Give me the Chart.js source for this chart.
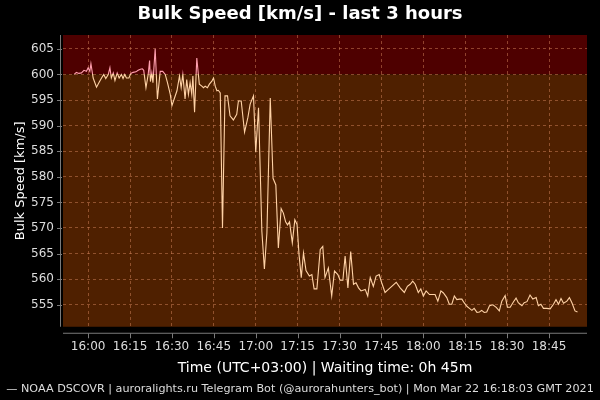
<!DOCTYPE html>
<html>
<head>
<meta charset="utf-8">
<script src="https://cdn.jsdelivr.net/npm/chart.js@4"></script>
<style>
  html, body { margin: 0; padding: 0; background: #000; }
  #wrap { width: 600px; height: 400px; }
</style>
</head>
<body>
<div id="wrap"><canvas id="speed"></canvas></div>
<script>
// minutes after 16:00 (UTC+03:00)
const minutes = [-5.0,-4.2,-3.3,-2.4,-1.5,-0.6,0,0.6,1.0,1.8,3.0,3.9,4.8,5.6,6.3,7.2,7.8,8.3,9.0,9.6,
  10.4,11.1,11.9,12.5,13.1,13.7,14.6,15.3,16.1,17.1,17.9,18.7,19.4,19.9,20.7,21.5,22.0,22.3,22.8,23.2,
  24.0,24.8,25.8,26.7,27.6,28.4,29.4,30.0,30.8,31.8,32.7,33.3,33.9,34.7,35.3,35.9,36.5,37.1,37.5,38.1,
  38.9,39.8,40.7,41.3,41.9,42.7,43.4,44.3,44.9,45.5,46.1,46.6,47.3,48.1,49.0,49.9,50.8,52.0,53.2,53.8,
  54.8,56.0,57.2,58.0,59.2,60.0,61.0,62.2,63.1,64.0,65.2,66.2,67.2,68.1,69.1,69.9,70.7,71.4,72.1,73.1,
  74.0,74.8,75.5,76.3,77.1,78.0,79.2,80.1,80.9,81.9,83.1,84.0,84.8,86.0,87.2,88.2,89.4,90.2,91.2,92.0,
  93.0,94.0,95.0,95.9,96.8,97.7,99.2,100.1,101.0,102.1,103.1,104.2,105.1,106.3,107.5,108.7,110.3,111.7,113.2,114.3,
  115.3,116.2,117.1,118.2,119.1,120.0,121.0,122.2,123.4,124.2,125.2,126.3,127.2,128.4,129.3,130.2,131.1,132.0,132.9,133.8,
  134.6,135.6,136.5,137.4,138.2,139.2,140.1,140.9,141.8,142.7,143.7,144.9,146.1,147.2,148.1,149.3,150.1,151.1,152.3,153.2,
  154.0,155.3,156.1,157.1,158.2,159.2,160.4,161.2,162.1,163.0,164.2,165.4,166.6,167.5,168.4,169.3,170.2,171.4,172.3,173.2,
  174.3,175.2]

const speeds = [600.0,600.4,600.2,600.3,600.8,600.6,601.3,600.6,602.1,599.3,597.5,598.4,599.3,600.0,599.2,600.0,601.3,599.3,600.3,598.8,
  600.3,599.3,600.0,599.2,600.0,599.3,599.3,600.2,600.4,600.5,600.8,601.0,601.1,600.8,597.4,600.0,602.7,598.6,600.3,598.4,
  605.0,595.2,600.6,600.6,600.0,598.4,596.1,593.9,595.2,596.8,599.7,597.4,600.0,595.2,599.0,596.1,598.4,596.1,599.7,592.6,
  603.2,598.1,597.7,597.4,597.7,597.4,598.1,598.7,599.3,597.7,596.8,596.9,596.4,570.0,595.8,595.8,591.9,591.1,592.2,594.8,
  594.8,588.7,591.6,594.2,595.8,584.8,593.5,569.3,562.0,569.0,595.4,579.7,578.4,566.1,573.8,572.9,571.2,570.6,571.2,567.1,
  571.6,570.7,564.8,560.3,565.1,561.7,560.6,560.9,558.1,558.1,565.8,566.4,560.3,562.2,556.7,561.6,560.9,559.8,559.8,564.5,
  558.3,565.4,559.0,559.3,558.3,557.7,558.0,556.7,560.3,558.6,560.6,560.9,559.3,557.4,558.0,558.6,559.4,558.3,557.4,558.6,
  559.0,559.6,559.0,557.4,558.1,556.7,557.7,557.0,557.0,557.0,555.7,557.7,557.3,556.4,555.1,555.1,556.7,556.0,556.1,556.1,
  555.4,554.7,554.3,553.9,554.3,553.5,553.6,553.9,553.5,553.6,554.8,555.0,554.5,553.8,555.7,556.8,554.5,554.5,555.6,556.3,
  555.4,554.8,555.4,555.6,556.9,556.1,556.4,554.8,555.1,554.3,554.3,554.2,555.1,556.0,555.1,556.2,555.3,555.7,556.4,555.4,
  553.8,553.6]

const timeLabels = ['16:00','16:15','16:30','16:45','17:00','17:15','17:30','17:45','18:00','18:15','18:30','18:45']
const threshold = 600

const upperBg = '#4e0000'
const lowerBg = '#4f2000'
const upperLine = '#ff9fae'
const lowerLine = '#ffd2a6'
const gridColor = 'rgba(210,130,90,0.5)'
const axisGray = '#7a7a7a'

const backdrop = {
  id: 'backdrop',
  beforeDraw(chart) {
    const {ctx, chartArea: a, scales: {x, y}} = chart
    const yT = y.getPixelForValue(threshold)
    ctx.save()
    ctx.fillStyle = upperBg
    ctx.fillRect(a.left, a.top, a.width, yT - a.top)
    ctx.fillStyle = lowerBg
    ctx.fillRect(a.left, yT, a.width, a.bottom - yT)
    ctx.strokeStyle = axisGray
    ctx.lineWidth = 1
    ctx.beginPath()
    ctx.moveTo(a.left - 2.5, a.top)
    ctx.lineTo(a.left - 2.5, a.bottom)
    y.ticks.forEach(t => {
      const py = Math.round(y.getPixelForValue(t.value)) + 0.5
      ctx.moveTo(a.left - 6, py)
      ctx.lineTo(a.left - 1, py)
    })
    const bx = a.bottom + 6.5
    ctx.moveTo(a.left, bx)
    ctx.lineTo(a.right, bx)
    x.ticks.forEach(t => {
      const px = Math.round(x.getPixelForValue(t.value)) + 0.5
      ctx.moveTo(px, bx)
      ctx.lineTo(px, bx + 5)
    })
    ctx.stroke()
    ctx.restore()
  }
}

function lineColor(c) {
  const chart = c.chart
  const a = chart.chartArea
  if (!a) return lowerLine
  const yT = chart.scales.y.getPixelForValue(threshold)
  const f = Math.min(1, Math.max(0, (yT - a.top) / a.height))
  const g = chart.ctx.createLinearGradient(0, a.top, 0, a.bottom)
  g.addColorStop(0, upperLine)
  g.addColorStop(f, upperLine)
  g.addColorStop(f, lowerLine)
  g.addColorStop(1, lowerLine)
  return g
}

new Chart(document.getElementById('speed'), {
  type: 'line',
  data: {
    datasets: [{
      label: 'NOAA DSCOVR',
      data: minutes.map((m, i) => ({x: m, y: speeds[i]})),
      borderColor: lineColor,
      borderWidth: 1.1,
      pointRadius: 0,
      tension: 0
    }]
  },
  options: {
    responsive: true,
    maintainAspectRatio: false,
    animation: false,
    layout: {padding: 0},
    scales: {
      x: {
        type: 'linear',
        min: -9,
        max: 178.6,
        grid: {color: gridColor, drawTicks: false},
        border: {display: false, dash: [3, 3]},
        ticks: {
          stepSize: 15,
          includeBounds: false,
          color: '#dddddd',
          font: {family: 'DejaVu Sans', size: 12},
          padding: 13,
          maxRotation: 0,
          callback: v => timeLabels[Math.round(v / 15)]
        },
        title: {
          display: true,
          text: 'Time (UTC+03:00) | Waiting time: 0h 45m',
          color: '#ffffff',
          font: {family: 'DejaVu Sans', size: 14},
          padding: {top: 0, bottom: 3.4}
        },
        afterFit: s => { s.height = 53.4 }
      },
      y: {
        min: 550.7,
        max: 607.7,
        grid: {color: gridColor, drawTicks: false},
        border: {display: false, dash: [3, 3]},
        ticks: {
          stepSize: 5,
          includeBounds: false,
          color: '#dddddd',
          font: {family: 'DejaVu Sans', size: 12},
          padding: 9
        },
        title: {
          display: true,
          text: 'Bulk Speed [km/s]',
          color: '#ffffff',
          font: {family: 'DejaVu Sans', size: 13},
          padding: {top: 13.2, bottom: 0}
        },
        afterFit: s => { s.width = 63 }
      },
      // empty right-hand gutter so titles stay centred on the canvas
      gutter: {
        position: 'right',
        display: true,
        grid: {display: false},
        border: {display: false},
        ticks: {display: false},
        afterFit: s => { s.width = 13 }
      }
    },
    plugins: {
      legend: {display: false},
      tooltip: {enabled: false},
      title: {
        display: true,
        text: 'Bulk Speed [km/s] - last 3 hours',
        color: '#ffffff',
        font: {family: 'DejaVu Sans', size: 18, weight: 'bold'},
        padding: {top: 4, bottom: 9.4}
      },
      subtitle: {
        display: true,
        position: 'bottom',
        text: '\u2014 NOAA DSCOVR | auroralights.ru Telegram Bot (@aurorahunters_bot) | Mon Mar 22 16:18:03 GMT 2021',
        color: '#dddddd',
        font: {family: 'DejaVu Sans', size: 11.2},
        padding: {top: 2, bottom: 4.4}
      }
    }
  },
  plugins: [backdrop]
})
</script>
</body>
</html>
